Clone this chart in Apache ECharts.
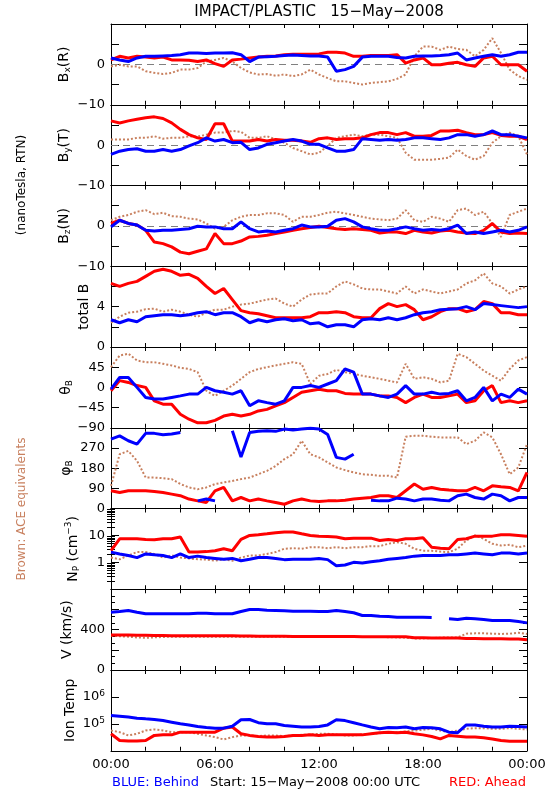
<!DOCTYPE html>
<html><head><meta charset="utf-8">
<script src="https://cdn.jsdelivr.net/npm/echarts@6.0.0/dist/echarts.min.js"></script>
<style>html,body{margin:0;padding:0;background:#fff;}#chart{width:550px;height:800px;}</style>
</head><body><div id="chart"></div>
<script>
// time grid (hours after 15-May-2008 00:00 UTC)
const hours=[0,0.5,1,1.5,2,2.5,3,3.5,4,4.5,5,5.5,6,6.5,7,7.5,8,8.5,9,9.5,10,10.5,11,11.5,12,12.5,13,13.5,14,14.5,15,15.5,16,16.5,17,17.5,18,18.5,19,19.5,20,20.5,21,21.5,22,22.5,23,23.5,24];
const xTickLabels=['00:00','06:00','12:00','18:00','00:00'];
const npMinorTicks=[0.2,0.3,0.4,0.5,0.6,0.7,0.8,0.9,2,3,4,5,6,7,8,9,20,30,40,50,60,70,80,90];

// Bx (R) nT
const bxBlue=[1.6,1.1,0.7,1.6,2,2,2.1,2.2,2.4,2.8,2.8,2.7,2.8,2.8,2.9,2.4,0.7,1.8,1.9,2,2.2,2.3,2.2,2.1,2.1,1.8,-1.7,-1.3,-0.5,1.8,2,2,2,1.7,1.6,2,2.1,2.1,2.2,2.4,2.8,1.1,1.6,2,2.4,2,2.4,3,3];
const bxRed=[1.1,2,1.6,2,1.8,1.6,1.8,1.1,1.1,1,0.7,1.1,0.2,-0.5,1.1,1.3,1.6,1.8,2,2.1,2.4,2.5,2.5,2.5,2.6,3,3,2.8,2,2,2.2,2.2,2.2,2.4,0.3,1.1,1.6,-0.1,-0.1,0.3,0.5,-0.1,-0.5,1.6,2,-0.1,-0.1,-0.1,-1.7];
const bxBrown=[-0.5,-0.1,-0.5,-0.5,-1.7,-2.1,-2.4,-2.1,-1.3,-1.3,-0.9,0.7,1.1,1.6,0.7,-0.9,-2,-2.5,-2.4,-2.8,-2.5,-2.9,-2.5,-1.3,-2.5,-3.4,-4.2,-4.2,-4.6,-5,-4.6,-4.4,-4.2,-3.6,-2.5,2,4.4,4.4,3.6,4.4,3.8,3.6,2,3.6,6.5,2.8,-1.3,-2.9,-3.8];
// By (T) nT
const byBlue=[-2.3,-1.5,-1.1,-0.9,-1.5,-1.5,-1.1,-1.5,-1.1,-0.2,0.6,1.8,1,1.4,0.6,0.7,-1.1,-0.7,0.2,0.6,1,1.4,1,0.2,0.2,-0.7,-1.5,-1.5,-1.1,1.6,1.4,1.2,1.4,1.2,1.4,1.8,1.8,1.6,1.4,1.8,2.6,2.6,2.2,2.6,3.5,2.6,2.6,2.2,1.8];
const byRed=[6,5.5,6,6.4,6.8,7,6.6,5.5,3.9,2.6,1.8,1.4,5.3,5.3,1,1,1,1.4,1,1.4,1.2,1.2,1,0.7,1.6,1.8,1.4,1.6,1.6,1.8,2.6,3.1,3.1,2.6,3.1,2.2,2.2,2.4,3.5,3.5,3.7,3.1,2.6,2.6,3.1,2.4,2.2,2.2,1.4];
const byBrown=[1.4,1.4,1.4,1.8,1.8,2.2,1.6,1.8,1.8,2.2,2.1,2.6,3.1,3.1,3.5,3.3,1.8,1.8,2.2,1.4,0.6,-0.7,-1.5,-2.3,-1.9,-0.2,1.8,2.2,2.6,2.2,2.6,2.6,2.2,1.8,-1.9,-3.6,-3.6,-3.6,-3.4,-3.1,-1.1,-2.7,-3.6,-2.7,0.6,2.2,3.1,2.2,-2.3];
// Bz (N) nT
const bzBlue=[-0.25,1.4,0.6,0.2,-1.1,-1.25,-1.1,-1.1,-0.9,-0.7,-0.1,-0.25,-0.25,-0.7,-0.7,1,-0.7,-1.5,-1.25,-1.5,-1.1,-0.7,0.2,-0.25,-0.25,-0.1,1.4,1.8,1,-0.25,-0.7,-1.1,-1.1,-0.7,-0.25,-0.7,-1.1,-0.9,-1.1,-0.7,0.2,-1.9,-1.5,-1.9,-1.5,-1.1,-1.5,-1.1,-0.25];
const bzRed=[0.6,1.4,0.6,0.2,-1.1,-4,-4.4,-5.2,-6.5,-6.9,-6.3,-5.7,-1.9,-4.4,-4.4,-3.75,-2.75,-2.6,-2.3,-1.9,-1.5,-1.1,-0.7,-0.4,-0.1,-0.4,-0.7,-0.9,-0.7,-0.9,-1.1,-1.75,-1.5,-1.5,-1.9,-1.1,-1.5,-1.75,-1.25,-1.1,-1.5,-1.75,-1.9,-1.1,0.6,-1.5,-1.9,-1.75,-1.9];
const bzBrown=[1.4,2.25,2.7,3.5,3.9,2.9,3.25,2.4,2.25,1.8,1.6,0.6,-0.7,-0.25,1.4,2.25,2.7,2.7,3.1,3.1,2.7,1,2.25,2.25,2.7,3.25,3.5,3.1,2.7,2.25,1.8,1.6,1.4,1.8,3.9,1.4,1,2.25,1.8,1,3.9,4.3,2.7,3.5,0.6,-2.75,2.7,3.5,4.3];
// total B nT
const btBlue=[2.7,2.4,2.7,2.5,3,3.1,3.2,3.2,3.1,3.2,3.4,3.5,3.2,3.4,3.4,3,2.4,2.7,2.5,2.7,2.8,2.6,2.7,2.3,2.4,2,2.2,2.2,2,2.7,2.8,2.7,2.9,2.7,2.9,3.2,3.4,3.5,3.7,3.75,3.8,4,3.7,4.3,4.2,4.1,4,3.9,4];
const btRed=[6.3,6,6.3,6.5,7,7.5,7.7,7.5,7.1,7.2,6.8,6,5.3,5.8,4.7,3.6,3.4,3.3,3.1,2.9,2.9,2.9,2.9,3,3.4,3.4,3.5,3.4,3,2.9,2.9,3.8,4.3,4,4.2,3.7,2.7,3,3.5,3.8,3.8,3.5,3.7,4.5,4.3,3.4,3.4,3.2,3.2];
const btBrown=[2.4,3,3.4,3.5,3.75,3.8,3.5,3.7,3.5,3.2,3,3.4,3.7,3.7,4,4.2,4.3,4.5,4.7,4.8,4.3,4,4.7,5.2,5.3,5.3,6,6.5,6.2,5.8,5.7,5.7,5.5,5.3,6,5.3,5.7,5.5,5.3,5.5,5.7,6.3,6.6,7.3,6.3,6,5.3,5.7,6];
// theta_B deg
const thBlue=[-4,22,22,0,-22.5,-26,-26,-22.5,-19,-15,-15,0,-7.5,-11,-15,-7.5,-41,-30,-34,-37.5,-30,0,0,4,0,7.5,15,41,34,-15,-15,-19,-22.5,-15,4,-15,-15,-11,-15,-13.5,-7.5,-30,-22.5,0,-30,-15,-22.5,-4,-15];
const thRed=[-7.5,15,11,4,0,-30,-37.5,-37.5,-60,-71,-79,-79,-73.5,-64,-60,-64,-60,-52.5,-49,-41,-34,-22.5,-11,-7.5,-4,-7.5,-7.5,-13.5,-15,-15,-15,-19,-19,-22.5,-34,-22.5,-15,-22.5,-22.5,-19,-15,-34,-30,-7.5,4,-34,-30,-34,-30];
const thBrown=[45,71,75,60,56,56,52.5,49,43.5,41,34,-7.5,-19,-7.5,4,19,34,41,45,49,52.5,56,52.5,7.5,26,30,39,34,30,26,22.5,19,15,11,52.5,19,22.5,19,11,15,75,67.5,52.5,37.5,26,15,41,60,67.5];
// phi_B deg
const phBlue=[309,324,302,287,335,335,329,332,339,null,34,42,34,null,347,230,339,344,347,344,354,350,354,358,354,330,228,220,242,null,37,34,34,46,42,34,42,42,37,34,57,64,49,42,64,57,34,49,49];
const phRed=[79,71,79,79,79,76,71,64,57,42,34,27,79,94,34,49,34,42,34,27,19,34,42,34,31,34,34,37,42,46,49,57,57,49,79,109,86,94,86,82,79,79,94,79,101,97,94,79,161];
const phBrown=[101,242,257,213,138,138,135,131,109,94,86,94,109,116,123,131,138,153,168,190,220,242,302,242,228,205,183,171,161,153,150,146,146,138,320,324,324,320,317,317,317,287,302,339,317,242,153,183,287];
// Np cm^-3
const npBlue=[2.4,2.05,1.8,1.5,2.05,1.9,1.8,1.5,2.05,1.5,1.7,1.5,1.4,1.3,1.4,1.15,1.3,1.5,1.5,1.4,1.26,1.3,1.3,1.3,1.4,1.26,0.75,0.8,1,0.95,1.06,1.15,1.3,1.4,1.5,1.7,1.8,1.8,1.8,1.9,1.9,2.05,2.2,2.05,1.9,2.2,2.2,2.05,2.2];
const npRed=[2.7,7.5,7.5,7.5,7.1,6.9,7.5,7.5,8.7,2.4,2.4,2.5,2.7,3.2,2.7,7.1,10,10.6,11.5,12.6,13.3,13.3,11.5,10,9.4,9.2,8.7,7.5,7.9,7.9,7.9,6.5,7.1,6.5,7.5,7.5,8.2,3.65,3.35,3.2,7.1,7.5,9.4,9.4,9.4,10.6,10.6,10,9.4];
const npBrown=[1.5,1.3,1.8,2.4,2.4,2.05,1.5,1.8,1.5,1.4,1.3,1.26,1.15,1.3,1.15,1.5,1.8,1.8,2.05,2.4,3.2,3.35,3.2,3.65,3.65,3.35,3.65,3.35,3.65,3.65,4,4,4.9,5.6,4.9,3.2,2.7,2.7,2.5,2.4,3.2,6.5,10,7.5,4.9,4.2,4.5,3.65,4.2];
// V km/s
const vBlue=[573,580,590,573,557,557,557,557,557,557,563,563,557,557,557,580,600,600,593,590,587,583,583,583,580,580,590,580,567,540,540,533,530,523,523,523,523,520,null,507,500,513,507,500,490,490,490,480,467];
const vRed=[347,347,347,345,345,343,343,340,340,340,340,340,340,340,340,338,337,335,335,335,335,333,333,333,333,333,333,333,333,330,330,330,330,330,330,320,320,317,317,317,317,313,313,310,310,310,307,307,300];
const vBrown=[340,335,330,323,318,323,327,330,330,330,330,330,330,330,330,330,330,330,330,330,330,330,330,330,330,327,327,327,327,327,327,327,325,323,320,313,313,317,320,323,323,360,363,363,360,357,360,370,357];
// Ion temperature K
const tBlue=[204000,191000,178000,162000,153000,145000,132000,115000,100000,91200,79400,72400,69200,69200,81300,141000,145000,110000,100000,100000,87100,81300,75900,75900,79400,91200,141000,132000,110000,91200,75900,65300,72400,71000,75900,65300,72400,71000,65300,49000,46800,91200,91200,81300,75900,75900,81300,79400,75900];
const tRed=[42700,24000,23000,23000,24000,37200,38900,38900,49000,49000,49000,49000,49000,69200,75900,42700,37200,33900,32400,32400,33900,37200,37200,38900,37200,38900,38900,38900,38900,38900,42700,46800,49000,46800,49000,42700,38900,33900,27500,37200,34700,32400,32400,30200,27500,24000,22400,22400,22400];
const tBrown=[56600,49100,37000,42600,56600,61700,56600,49100,49100,49100,42600,37000,32100,26300,32100,37000,37000,34900,37000,37000,34900,37000,39200,40300,42600,42600,40300,37000,37000,40300,42600,45100,49100,49100,52000,56600,60000,65300,56600,49100,56600,65300,69200,69200,65300,65300,69200,65300,61700];

const FONT='DejaVu Sans';
const BLUE='#0000ff', RED='#ff0000', BROWN='#c8805f';
const TOP0=24, PH=80.75, LEFT=111, WIDTH=416;

const panels=[
 {name:'B{s|x}(R)',nx:64,type:'value',min:-10,max:10,interval:5,labels:[-10,0],d:[bxBrown,bxRed,bxBlue],zero:true},
 {name:'B{s|y}(T)',nx:64,type:'value',min:-10,max:10,interval:5,labels:[-10,0],d:[byBrown,byRed,byBlue],zero:true},
 {name:'B{s|z}(N)',nx:64,type:'value',min:-10,max:10,interval:5,labels:[-10,0],d:[bzBrown,bzRed,bzBlue],zero:true},
 {name:'total B',nx:84,type:'value',min:0,max:8,interval:2,labels:[0,4],d:[btBrown,btRed,btBlue]},
 {name:'\u03b8{s|B}',nx:66,type:'value',min:-90,max:90,interval:45,labels:[-90,-45,0,45],d:[thBrown,thRed,thBlue]},
 {name:'\u03c6{s|B}',nx:66,type:'value',min:0,max:360,interval:90,labels:[0,90,180,270],d:[phBrown,phRed,phBlue]},
 {name:'N{s|P} (cm{p|\u22123})',nx:73,type:'log',min:0.1,max:100,labels:[1,10],d:[npBrown,npRed,npBlue],logMinor:true},
 {name:'V (km/s)',nx:67,type:'value',min:0,max:800,interval:200,labels:[0,400],d:[vBrown,vRed,vBlue],minor:3},
 {name:'Ion Temp',nx:70,type:'log',min:1e4,max:1e7,labels:[1e5,1e6],d:[tBrown,tRed,tBlue],pow:true}
];

function near(a,b){return Math.abs(a-b)<=1e-6*Math.max(1,Math.abs(b));}
function fmtNum(v){return v<0?'\u2212'+Math.abs(v):String(v);}

const grid=[],xAxis=[],yAxis=[],series=[],extraY=[],nameTexts=[];
const tickStyle={color:'#000',width:1};
panels.forEach((p,i)=>{
  const top=TOP0+i*PH;
  grid.push({left:LEFT,width:WIDTH,top:top,height:PH});
  const xb={gridIndex:i,type:'value',min:0,max:24,interval:2,position:'bottom',
    axisLine:{show:true,onZero:false,lineStyle:tickStyle},
    axisTick:{show:true,inside:true,length:4,lineStyle:tickStyle},
    splitLine:{show:false},
    axisLabel:{show:i===panels.length-1,margin:7,fontFamily:FONT,fontSize:13,color:'#000',showMinLabel:true,showMaxLabel:true,
      formatter:v=>(v%6===0)?xTickLabels[v/6]:''}};
  const xt=Object.assign({},xb,{position:'top',axisLabel:{show:false}});
  xAxis.push(xb,xt);
  const lbl={show:true,margin:6,fontFamily:FONT,fontSize:13,color:'#000',showMinLabel:true,showMaxLabel:true,
    formatter:v=>{
      if(!p.labels.some(l=>near(v,l)))return '';
      if(p.pow)return '10{p|'+Math.round(Math.log10(v))+'}';
      return fmtNum(v);
    },
    rich:{p:{fontFamily:FONT,fontSize:9,color:'#000',padding:[0,0,7,0]}}};
  const yl={gridIndex:i,type:p.type,min:p.min,max:p.max,position:'left',
    axisLine:{show:true,onZero:false,lineStyle:tickStyle},
    axisTick:{show:true,inside:true,length:8,lineStyle:tickStyle},
    splitLine:{show:false},
    minorTick:p.minor?{show:true,splitNumber:p.minor,length:4,lineStyle:tickStyle}:{show:false},
    minorSplitLine:{show:false},
    axisLabel:lbl};
  if(p.type==='log'){yl.logBase=10;}else{yl.interval=p.interval;}
  const yr=Object.assign({},yl,{position:'right',axisLabel:{show:false}});
  yAxis.push(yl,yr);
  if(p.logMinor){
    ['left','right'].forEach(pos=>{
      extraY.push({gridIndex:i,type:'log',logBase:10,min:p.min,max:p.max,position:pos,
        axisLine:{show:false},axisLabel:{show:false},splitLine:{show:false},
        axisTick:{show:true,inside:true,length:4,customValues:npMinorTicks,lineStyle:tickStyle}});
    });
  }
  nameTexts.push({type:'text',silent:true,x:p.nx,y:top+PH/2,rotation:Math.PI/2,
    style:{text:p.name,font:'14px "'+FONT+'"',fill:'#000',align:'center',verticalAlign:'middle',textAlign:'center',textVerticalAlign:'middle',
      rich:{s:{fontFamily:FONT,fontSize:9,fill:'#000',color:'#000',padding:[8,0,0,0]},
            p:{fontFamily:FONT,fontSize:9,fill:'#000',color:'#000',padding:[0,0,8,0]}}}});
  const cols=[BROWN,RED,BLUE];
  p.d.forEach((arr,k)=>{
    const s={type:'line',xAxisIndex:2*i,yAxisIndex:2*i,symbol:'none',silent:true,animation:false,clip:true,
      z:2+k,connectNulls:false,
      data:hours.map((h,j)=>[h,arr[j]]),
      lineStyle:k===0?{color:cols[k],width:2,type:[2,2]}:{color:cols[k],width:3}};
    if(k===0&&p.zero){
      s.markLine={silent:true,symbol:'none',z:1,animation:false,label:{show:false},
        lineStyle:{color:'#808080',type:[7,5],width:1},data:[{yAxis:0}]};
    }
    series.push(s);
  });
});
extraY.forEach(a=>yAxis.push(a));

const txt=(o)=>Object.assign({type:'text',silent:true},o);
const graphic=nameTexts.concat([
  txt({x:319,y:12,style:{text:'IMPACT/PLASTIC   15\u2212May\u22122008',font:'15px "'+FONT+'"',fill:'#000',align:'center',verticalAlign:'middle',textAlign:'center',textVerticalAlign:'middle'}}),
  txt({x:22,y:185,rotation:Math.PI/2,style:{text:'(nanoTesla, RTN)',font:'12px "'+FONT+'"',fill:'#000',align:'center',verticalAlign:'middle',textAlign:'center',textVerticalAlign:'middle'}}),
  txt({x:22,y:509,rotation:Math.PI/2,style:{text:'Brown: ACE equivalents',font:'12px "'+FONT+'"',fill:BROWN,align:'center',verticalAlign:'middle',textAlign:'center',textVerticalAlign:'middle'}}),
  txt({x:112,y:783,style:{text:'BLUE: Behind',font:'13px "'+FONT+'"',fill:BLUE,align:'left',verticalAlign:'middle',textAlign:'left',textVerticalAlign:'middle'}}),
  txt({x:315,y:783,style:{text:'Start: 15\u2212May\u22122008 00:00 UTC',font:'13px "'+FONT+'"',fill:'#000',align:'center',verticalAlign:'middle',textAlign:'center',textVerticalAlign:'middle'}}),
  txt({x:526,y:783,style:{text:'RED: Ahead',font:'13px "'+FONT+'"',fill:RED,align:'right',verticalAlign:'middle',textAlign:'right',textVerticalAlign:'middle'}})
]);

const chart=echarts.init(document.getElementById('chart'),null,{renderer:'canvas'});
chart.setOption({animation:false,backgroundColor:'#fff',grid,xAxis,yAxis,series,graphic});
</script></body></html>
